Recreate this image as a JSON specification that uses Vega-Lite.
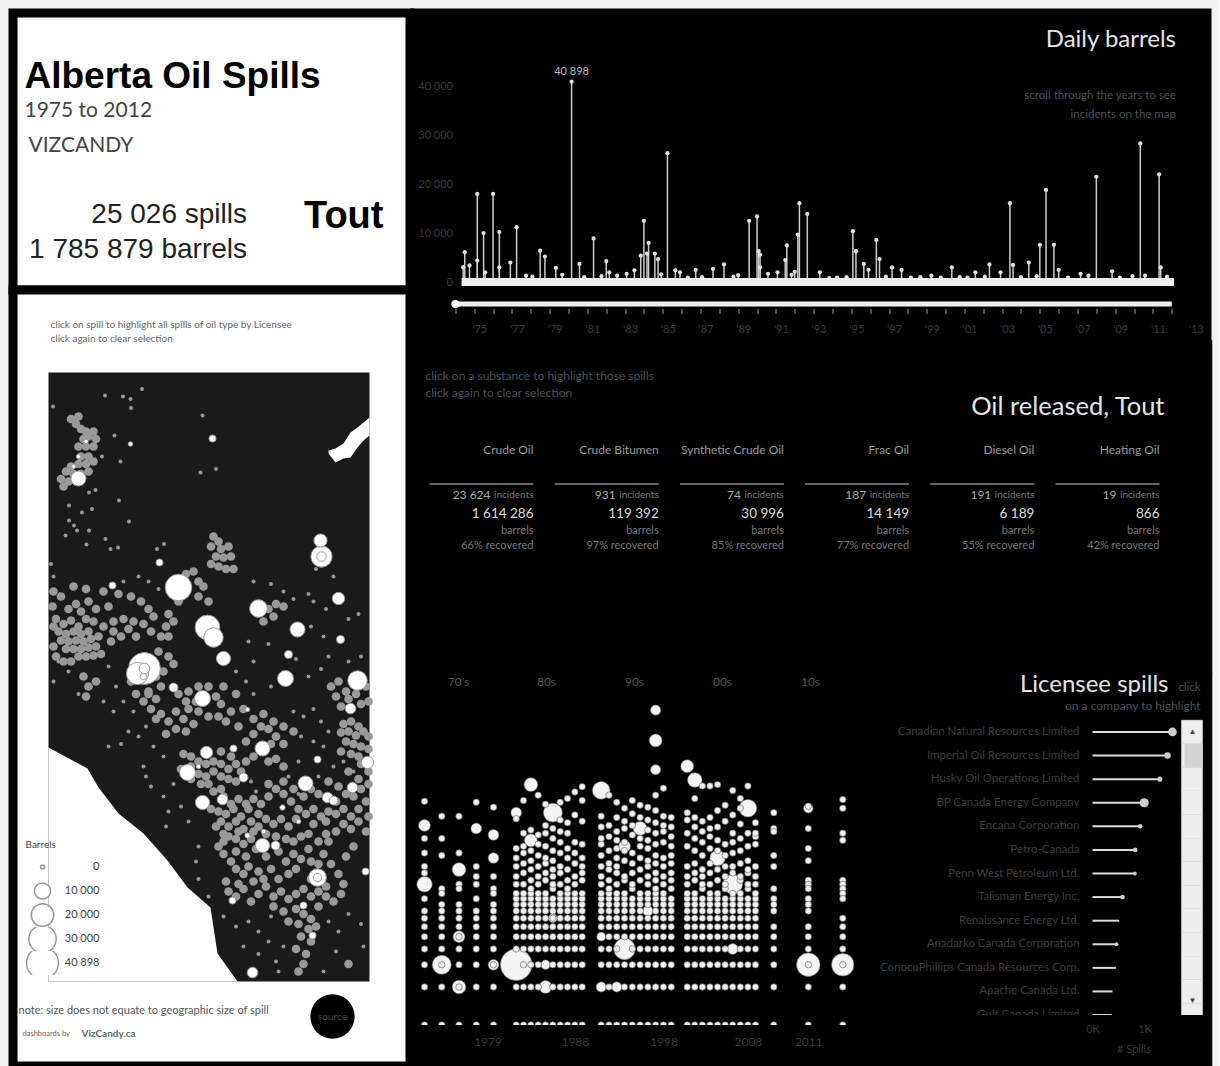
{"$schema":"https://vega.github.io/schema/vega-lite/v6.json","background":"#f2f2f2","padding":{"left":8,"top":8,"right":0,"bottom":0},
"config":{"font":"Lato","view":{"stroke":null},"axis":{"labels":false,"ticks":false,"domain":false,"grid":false,"titleOpacity":0},"locale":{"number":{"decimal":".","thousands":" ","grouping":[3],"currency":["$",""]}}},
"datasets":{
"one":[{"a":1}],
"kpi":[{"label":"spills","value":25026},{"label":"barrels","value":1785879}],
"frame":[{"e0":0,"e1":642,"n0":0,"n1":1218}],
"border":[{"e":0,"n":468},{"e":78,"n":426},{"e":100,"n":388},{"e":140,"n":336},{"e":190,"n":296},{"e":238,"n":242},{"e":278,"n":188},{"e":324,"n":148},{"e":338,"n":56},{"e":378,"n":0}],
"lake":[{"e":560,"n":1062,"n2":1056},{"e":574,"n":1066,"n2":1038},{"e":590,"n":1076,"n2":1046},{"e":604,"n":1098,"n2":1048},{"e":618,"n":1108,"n2":1068},{"e":630,"n":1118,"n2":1082},{"e":642,"n":1128,"n2":1092}],
"blobs":[{"e":45,"n":1125},{"e":55,"n":1115},{"e":60,"n":1130},{"e":65,"n":1105},{"e":75,"n":1100},{"e":80,"n":1090},{"e":70,"n":1085},{"e":90,"n":1100},{"e":95,"n":1085},{"e":60,"n":1070},{"e":75,"n":1070},{"e":90,"n":1070},{"e":65,"n":1050},{"e":80,"n":1050},{"e":60,"n":1035},{"e":75,"n":1035},{"e":90,"n":1040},{"e":45,"n":1030},{"e":35,"n":1020},{"e":50,"n":1015},{"e":65,"n":1015},{"e":80,"n":1020},{"e":25,"n":1005},{"e":40,"n":1000},{"e":30,"n":990},{"e":55,"n":1000},
{"e":330,"n":890},{"e":340,"n":880},{"e":325,"n":870},{"e":345,"n":865},{"e":360,"n":870},{"e":335,"n":850},{"e":350,"n":848},{"e":365,"n":850},{"e":325,"n":835},{"e":340,"n":830},{"e":355,"n":825},{"e":370,"n":825},{"e":290,"n":820},{"e":300,"n":800},{"e":310,"n":790},{"e":275,"n":815},{"e":300,"n":770},{"e":320,"n":760},{"e":250,"n":790},{"e":260,"n":760},{"e":240,"n":735},{"e":235,"n":710},{"e":225,"n":690},{"e":240,"n":690},{"e":250,"n":720},{"e":440,"n":745},{"e":455,"n":755},{"e":470,"n":750},{"e":450,"n":730},{"e":430,"n":720},
{"e":10,"n":780},{"e":25,"n":770},{"e":50,"n":790},{"e":75,"n":785},{"e":110,"n":780},{"e":8,"n":750},{"e":40,"n":745},{"e":55,"n":755},{"e":65,"n":740},{"e":120,"n":750},{"e":165,"n":770},{"e":185,"n":760},{"e":200,"n":745},{"e":150,"n":725},{"e":170,"n":720},{"e":190,"n":715},
{"e":15,"n":725},{"e":30,"n":715},{"e":45,"n":722},{"e":60,"n":710},{"e":20,"n":700},{"e":35,"n":695},{"e":50,"n":700},{"e":65,"n":695},{"e":80,"n":700},{"e":25,"n":682},{"e":40,"n":680},{"e":55,"n":682},{"e":70,"n":680},{"e":85,"n":685},{"e":35,"n":665},{"e":50,"n":665},{"e":65,"n":665},{"e":80,"n":668},{"e":95,"n":670},{"e":60,"n":650},{"e":75,"n":650},{"e":90,"n":652},{"e":105,"n":655},{"e":130,"n":700},{"e":145,"n":690},{"e":160,"n":705},{"e":175,"n":690},{"e":125,"n":680},{"e":205,"n":700},{"e":220,"n":660},{"e":240,"n":650},{"e":250,"n":635},
{"e":70,"n":610},{"e":80,"n":590},{"e":75,"n":570},{"e":95,"n":600},{"e":200,"n":580},{"e":215,"n":565},{"e":205,"n":545},{"e":225,"n":535},{"e":240,"n":520},{"e":255,"n":540},{"e":270,"n":525},{"e":255,"n":505},{"e":275,"n":500},{"e":290,"n":515},{"e":320,"n":590},{"e":335,"n":570},{"e":350,"n":590},{"e":345,"n":555},{"e":365,"n":540},{"e":355,"n":520},{"e":380,"n":510},
{"e":565,"n":590},{"e":580,"n":600},{"e":575,"n":570},{"e":595,"n":580},{"e":585,"n":550},{"e":600,"n":565},{"e":615,"n":575},{"e":625,"n":555},{"e":635,"n":590},{"e":640,"n":560},{"e":590,"n":515},{"e":605,"n":520},{"e":620,"n":510},{"e":585,"n":498},{"e":600,"n":500},{"e":615,"n":492},{"e":630,"n":500},{"e":640,"n":490},{"e":595,"n":480},{"e":610,"n":475},{"e":625,"n":470},{"e":640,"n":465},
{"e":270,"n":455},{"e":285,"n":450},{"e":300,"n":440},{"e":315,"n":435},{"e":330,"n":440},{"e":345,"n":435},{"e":360,"n":425},{"e":375,"n":435},{"e":265,"n":425},{"e":285,"n":405},{"e":300,"n":415},{"e":315,"n":410},{"e":330,"n":420},{"e":345,"n":410},{"e":360,"n":405},{"e":375,"n":400},{"e":320,"n":395},{"e":385,"n":420},
{"e":395,"n":480},{"e":410,"n":495},{"e":425,"n":510},{"e":440,"n":505},{"e":455,"n":490},{"e":470,"n":475},{"e":445,"n":475},{"e":455,"n":445},{"e":470,"n":430},{"e":440,"n":440},{"e":410,"n":450},{"e":395,"n":440},
{"e":200,"n":575},{"e":225,"n":590},{"e":280,"n":580},{"e":295,"n":560},{"e":280,"n":545},{"e":235,"n":495},
{"e":330,"n":380},{"e":345,"n":385},{"e":325,"n":345},{"e":340,"n":340},{"e":355,"n":335},{"e":370,"n":345},{"e":385,"n":330},{"e":400,"n":345},{"e":345,"n":320},{"e":360,"n":310},{"e":375,"n":320},{"e":390,"n":305},{"e":405,"n":320},{"e":420,"n":310},{"e":360,"n":290},{"e":375,"n":285},{"e":390,"n":275},{"e":405,"n":285},{"e":420,"n":335},{"e":435,"n":325},{"e":450,"n":315},{"e":465,"n":325},{"e":480,"n":310},{"e":495,"n":325},{"e":505,"n":290},{"e":490,"n":280},{"e":340,"n":270},{"e":350,"n":255},{"e":365,"n":240},{"e":375,"n":225},{"e":390,"n":215},
{"e":440,"n":395},{"e":455,"n":385},{"e":470,"n":375},{"e":485,"n":360},{"e":500,"n":345},{"e":515,"n":335},{"e":530,"n":345},{"e":545,"n":330},{"e":560,"n":340},{"e":575,"n":335},{"e":590,"n":345},{"e":605,"n":330},{"e":620,"n":345},{"e":635,"n":360},{"e":640,"n":330},{"e":590,"n":315},{"e":605,"n":305},{"e":620,"n":320},{"e":635,"n":300},{"e":575,"n":300},{"e":555,"n":295},{"e":540,"n":375},{"e":610,"n":370},{"e":625,"n":385},{"e":640,"n":395},
{"e":460,"n":260},{"e":475,"n":240},{"e":490,"n":255},{"e":505,"n":245},{"e":520,"n":265},{"e":550,"n":255},{"e":565,"n":235},{"e":580,"n":215},{"e":590,"n":195},{"e":480,"n":215},{"e":495,"n":225},
{"e":360,"n":180},{"e":375,"n":170},{"e":390,"n":185},{"e":405,"n":160},{"e":420,"n":175},{"e":435,"n":190},{"e":450,"n":170},{"e":465,"n":180},{"e":480,"n":165},{"e":495,"n":175},{"e":510,"n":185},{"e":525,"n":170},{"e":540,"n":180},{"e":555,"n":170},{"e":570,"n":160},{"e":585,"n":175},{"e":495,"n":145},{"e":510,"n":135},{"e":525,"n":125},{"e":500,"n":115},{"e":520,"n":105},{"e":535,"n":110},{"e":505,"n":90},{"e":525,"n":80},{"e":495,"n":65},{"e":515,"n":55},{"e":510,"n":35},{"e":500,"n":20},{"e":600,"n":35},
{"e":285,"n":430},{"e":305,"n":395},{"e":345,"n":460},{"e":365,"n":450},{"e":350,"n":370},{"e":365,"n":355},{"e":380,"n":365},{"e":395,"n":355},{"e":410,"n":365},{"e":425,"n":355},{"e":335,"n":310},{"e":350,"n":295},{"e":380,"n":300},{"e":410,"n":300},{"e":435,"n":295},{"e":455,"n":290},{"e":475,"n":285},{"e":350,"n":280},{"e":375,"n":260},{"e":395,"n":250},{"e":415,"n":265},{"e":435,"n":250},{"e":400,"n":230},{"e":420,"n":220},{"e":445,"n":225},{"e":460,"n":205},{"e":410,"n":200},{"e":380,"n":195},{"e":430,"n":205},{"e":355,"n":200},{"e":450,"n":150},{"e":470,"n":140},{"e":480,"n":120},{"e":540,"n":150},{"e":555,"n":190},{"e":525,"n":205},{"e":540,"n":235},{"e":525,"n":240},{"e":595,"n":250},{"e":610,"n":270},{"e":560,"n":280},{"e":540,"n":280},{"e":520,"n":295},{"e":530,"n":315},{"e":555,"n":320},{"e":575,"n":360},{"e":595,"n":375},{"e":580,"n":390},{"e":560,"n":400},{"e":525,"n":385},{"e":510,"n":370},{"e":490,"n":385},{"e":470,"n":400},{"e":440,"n":370},{"e":620,"n":405},{"e":600,"n":420},{"e":625,"n":435},{"e":640,"n":420},{"e":585,"n":460},{"e":605,"n":455},{"e":620,"n":450},
{"e":215,"n":610},{"e":230,"n":620},{"e":200,"n":625},{"e":215,"n":525},{"e":190,"n":560},{"e":175,"n":575},{"e":165,"n":600},{"e":260,"n":575},{"e":275,"n":560},{"e":300,"n":540},{"e":320,"n":530},{"e":340,"n":530},{"e":300,"n":590},{"e":375,"n":575},{"e":390,"n":545},{"e":410,"n":525},{"e":430,"n":535},{"e":450,"n":520},{"e":470,"n":510},{"e":490,"n":500},{"e":10,"n":710},{"e":10,"n":670},{"e":15,"n":650},{"e":30,"n":640},{"e":45,"n":640},{"e":100,"n":690},{"e":110,"n":710},{"e":90,"n":720},{"e":75,"n":725},{"e":95,"n":745},{"e":80,"n":760},{"e":140,"n":775},{"e":130,"n":720},{"e":210,"n":730}],
"small":[{"e":113,"n":1172},{"e":149,"n":1170},{"e":164,"n":1165},{"e":187,"n":1185},{"e":165,"n":1147},{"e":9,"n":1150},{"e":308,"n":1132},{"e":132,"n":1092},{"e":164,"n":1075},{"e":144,"n":1040},{"e":107,"n":1050},{"e":304,"n":1018},{"e":335,"n":1025},{"e":81,"n":978},{"e":94,"n":983},{"e":141,"n":962},{"e":41,"n":952},{"e":67,"n":938},{"e":87,"n":945},{"e":161,"n":920},{"e":41,"n":922},{"e":51,"n":912},{"e":57,"n":902},{"e":34,"n":892},{"e":81,"n":902},{"e":114,"n":885},{"e":76,"n":874},{"e":124,"n":865},{"e":139,"n":868},{"e":217,"n":865},{"e":231,"n":875},{"e":180,"n":810},{"e":150,"n":800},{"e":200,"n":800},{"e":220,"n":785},{"e":5,"n":835},{"e":10,"n":810},{"e":410,"n":800},{"e":445,"n":795},{"e":470,"n":780},{"e":490,"n":765},{"e":520,"n":775},{"e":555,"n":745},{"e":600,"n":725},{"e":620,"n":735},{"e":570,"n":810},{"e":535,"n":825},{"e":530,"n":760},{"e":525,"n":710},{"e":550,"n":690},{"e":495,"n":645},{"e":440,"n":675},{"e":400,"n":680},{"e":410,"n":640},{"e":375,"n":620},{"e":395,"n":600},{"e":410,"n":575},{"e":445,"n":590},{"e":520,"n":610},{"e":545,"n":625},{"e":560,"n":650},{"e":600,"n":640},{"e":625,"n":650},{"e":120,"n":630},{"e":135,"n":590},{"e":150,"n":560},{"e":170,"n":540},{"e":130,"n":540},{"e":110,"n":560},{"e":60,"n":575},{"e":40,"n":620},{"e":20,"n":640},{"e":10,"n":600},{"e":195,"n":510},{"e":180,"n":490},{"e":160,"n":500},{"e":145,"n":475},{"e":120,"n":470},{"e":210,"n":470},{"e":230,"n":450},{"e":250,"n":395},{"e":190,"n":430},{"e":195,"n":410},{"e":205,"n":390},{"e":230,"n":370},{"e":240,"n":340},{"e":265,"n":350},{"e":280,"n":320},{"e":235,"n":310},{"e":300,"n":270},{"e":295,"n":240},{"e":300,"n":205},{"e":320,"n":170},{"e":350,"n":130},{"e":375,"n":110},{"e":400,"n":120},{"e":420,"n":100},{"e":445,"n":130},{"e":440,"n":80},{"e":390,"n":70},{"e":420,"n":55},{"e":455,"n":40},{"e":470,"n":70},{"e":560,"n":120},{"e":580,"n":100},{"e":600,"n":135},{"e":625,"n":115},{"e":575,"n":60},{"e":630,"n":70},{"e":460,"n":20},{"e":550,"n":20},{"e":490,"n":540},{"e":510,"n":530},{"e":530,"n":545},{"e":545,"n":520},{"e":505,"n":490},{"e":530,"n":480},{"e":560,"n":500},{"e":550,"n":470},{"e":500,"n":440},{"e":570,"n":430},{"e":590,"n":440},{"e":610,"n":420},{"e":540,"n":410},{"e":480,"n":410},{"e":500,"n":375},{"e":415,"n":380},{"e":405,"n":400},{"e":300,"n":360}],
"whites":[{"e":192,"n":626,"b":40898},{"e":260,"n":788,"b":28150},{"e":318,"n":708,"b":24400},{"e":178,"n":616,"b":19400},{"e":546,"n":850,"b":17800},{"e":330,"n":688,"b":14800},{"e":618,"n":602,"b":14800},{"e":420,"n":746,"b":12150},{"e":538,"n":208,"b":12150},{"e":474,"n":606,"b":9700},{"e":308,"n":566,"b":9700},{"e":278,"n":418,"b":9700},{"e":60,"n":1006,"b":8600},{"e":498,"n":704,"b":8600},{"e":428,"n":466,"b":8600},{"e":514,"n":396,"b":8600},{"e":350,"n":646,"b":7540},{"e":308,"n":358,"b":7540},{"e":428,"n":272,"b":7540},{"e":544,"n":882,"b":6500},{"e":580,"n":766,"b":5600},{"e":316,"n":458,"b":5600},{"e":638,"n":438,"b":5600},{"e":192,"n":626,"b":4000},{"e":604,"n":546,"b":3960},{"e":348,"n":364,"b":3960},{"e":558,"n":368,"b":3960},{"e":408,"n":18,"b":3960},{"e":608,"n":388,"b":3960},{"e":546,"n":850,"b":3000},{"e":250,"n":588,"b":2550},{"e":390,"n":408,"b":2550},{"e":570,"n":362,"b":2550},{"e":454,"n":272,"b":2550},{"e":538,"n":208,"b":2000},{"e":480,"n":654,"b":1950},{"e":584,"n":684,"b":1950},{"e":328,"n":1086,"b":1400},{"e":222,"n":838,"b":1400},{"e":128,"n":792,"b":1400},{"e":370,"n":466,"b":1400},{"e":538,"n":444,"b":1400},{"e":634,"n":220,"b":1400},{"e":510,"n":152,"b":1400},{"e":528,"n":92,"b":1400},{"e":368,"n":162,"b":1400},{"e":190,"n":610,"b":1000},{"e":468,"n":348,"b":500},{"e":398,"n":292,"b":500},{"e":398,"n":544,"b":150},{"e":164,"n":1075,"b":200},{"e":60,"n":1050,"b":100},{"e":75,"n":1080,"b":100},{"e":50,"n":1030,"b":100},{"e":300,"n":430,"b":200},{"e":430,"n":300,"b":200},{"e":500,"n":320,"b":200}],
"extent":[{"from":"1974-01-01","to":"2012-01-01","base_from":"1974-05-01","base_to":"2012-02-15"}],
"daily":[{"d":"1974-07","v":6100},{"d":"1974-10","v":3400},{"d":"1974-06","v":3050},{"d":"1975-03","v":18000},{"d":"1975-03","v":4400},{"d":"1975-07","v":10000},{"d":"1975-08","v":2000},{"d":"1976-01","v":18000},{"d":"1976-05","v":10200},{"d":"1976-05","v":3000},{"d":"1976-12","v":4000},{"d":"1977-04","v":11200},{"d":"1978-07","v":6400},{"d":"1978-10","v":5200},{"d":"1979-05","v":2900},{"d":"1980-03","v":40898},{"d":"1980-08","v":3700},{"d":"1981-05","v":8900},{"d":"1982-01","v":4300},{"d":"1982-03","v":2000},{"d":"1983-02","v":1700},{"d":"1983-07","v":2400},{"d":"1983-11","v":5400},{"d":"1984-01","v":12500},{"d":"1984-03","v":5800},{"d":"1984-04","v":8000},{"d":"1984-08","v":5800},{"d":"1984-10","v":4700},{"d":"1985-04","v":26300},{"d":"1985-09","v":2400},{"d":"1986-10","v":2500},{"d":"1987-09","v":2700},{"d":"1988-04","v":3600},{"d":"1989-01","v":1400},{"d":"1989-08","v":12500},{"d":"1990-01","v":13400},{"d":"1990-02","v":6300},{"d":"1990-03","v":5600},{"d":"1990-03","v":3000},{"d":"1991-02","v":2000},{"d":"1991-07","v":4500},{"d":"1991-08","v":7500},{"d":"1992-03","v":9700},{"d":"1992-04","v":16100},{"d":"1992-09","v":13900},{"d":"1993-05","v":2000},{"d":"1995-02","v":10400},{"d":"1995-04","v":6300},{"d":"1995-09","v":3700},{"d":"1995-12","v":2500},{"d":"1996-05","v":8600},{"d":"1996-07","v":4700},{"d":"1997-03","v":3000},{"d":"1997-09","v":2500},{"d":"1999-04","v":1300},{"d":"2000-05","v":3000},{"d":"2001-08","v":2000},{"d":"2002-05","v":3600},{"d":"2002-12","v":2000},{"d":"2003-06","v":16100},{"d":"2003-08","v":3500},{"d":"2004-06","v":4000},{"d":"2005-01","v":7600},{"d":"2005-05","v":18800},{"d":"2005-10","v":7600},{"d":"2006-01","v":2500},{"d":"2007-03","v":1700},{"d":"2007-08","v":1300},{"d":"2008-01","v":21500},{"d":"2008-11","v":2200},{"d":"2009-12","v":1200},{"d":"2010-05","v":28300},{"d":"2010-08","v":1300},{"d":"2011-05","v":22000},{"d":"2011-06","v":3000},{"d":"1977-10","v":1300},{"d":"1978-02","v":1100},{"d":"1979-09","v":1500},{"d":"1980-11","v":1000},{"d":"1981-10","v":1200},{"d":"1982-08","v":1300},{"d":"1984-12","v":1600},{"d":"1985-12","v":2000},{"d":"1986-05","v":900},{"d":"1987-02","v":1000},{"d":"1988-10","v":1100},{"d":"1990-08","v":1700},{"d":"1991-11","v":1500},{"d":"1992-01","v":2100},{"d":"1993-11","v":800},{"d":"1994-04","v":900},{"d":"1994-10","v":1000},{"d":"1996-11","v":1100},{"d":"1998-03","v":900},{"d":"1998-09","v":1000},{"d":"1999-10","v":900},{"d":"2000-10","v":1000},{"d":"2001-03","v":900},{"d":"2002-02","v":1100},{"d":"2004-01","v":1000},{"d":"2004-11","v":1200},{"d":"2006-07","v":900},{"d":"2009-04","v":900},{"d":"2011-10","v":1100}],
"oil":[{"s":"Crude Oil","i":23624,"b":1614286,"r":0.66},{"s":"Crude Bitumen","i":931,"b":119392,"r":0.97},{"s":"Synthetic Crude Oil","i":74,"b":30996,"r":0.85},{"s":"Frac Oil","i":187,"b":14149,"r":0.77},{"s":"Diesel Oil","i":191,"b":6189,"r":0.55},{"s":"Heating Oil","i":19,"b":866,"r":0.42}],
"lic":[{"c":"Canadian Natural Resources Limited","v":1538,"b":1800},{"c":"Imperial Oil Resources Limited","v":1442,"b":1000},{"c":"Husky Oil Operations Limited","v":1295,"b":600},{"c":"BP Canada Energy Company","v":994,"b":2000},{"c":"Encana Corporation","v":917,"b":500},{"c":"Petro-Canada","v":821,"b":500},{"c":"Penn West Petroleum Ltd.","v":814,"b":350},{"c":"Talisman Energy Inc.","v":577,"b":500},{"c":"Renaissance Energy Ltd.","v":513,"b":0},{"c":"Anadarko Canada Corporation","v":461,"b":350},{"c":"ConocoPhillips Canada Resources Corp.","v":448,"b":0},{"c":"Apache Canada Ltd.","v":385,"b":0},{"c":"Gulf Canada Limited","v":370,"b":0}],
"big":[{"yr":1980,"n":3,"b":40000},{"yr":1975,"n":38,"b":5000},{"yr":1975,"n":13,"b":9000},{"yr":1976,"n":3,"b":14000},{"yr":1977,"n":17,"b":7000},{"yr":1977,"n":5,"b":5000},{"yr":1977,"n":2,"b":7000},{"yr":1978,"n":36,"b":4000},{"yr":1979,"n":32,"b":4000},{"yr":1979,"n":21,"b":4000},{"yr":1979,"n":3,"b":4000},{"yr":1980,"n":48,"b":4000},{"yr":1982,"n":80,"b":7000},{"yr":1982,"n":29,"b":6000},{"yr":1984,"n":2,"b":6000},{"yr":1984,"n":3,"b":3000},{"yr":1985,"n":48,"b":14000},{"yr":1985,"n":7,"b":2500},{"yr":1990,"n":72,"b":12000},{"yr":1990,"n":5,"b":2500},{"yr":1990,"n":2,"b":3500},{"yr":1992,"n":2,"b":3500},{"yr":1993,"n":4,"b":18000},{"yr":1993,"n":26,"b":5000},{"yr":1995,"n":36,"b":7000},{"yr":1996,"n":8,"b":3500},{"yr":1997,"n":311,"b":3500},{"yr":1997,"n":179,"b":6000},{"yr":1997,"n":105,"b":3500},{"yr":2000,"n":112,"b":6000},{"yr":2001,"n":87,"b":8000},{"yr":2004,"n":21,"b":9000},{"yr":2006,"n":13,"b":15000},{"yr":2006,"n":4,"b":4000},{"yr":2008,"n":52,"b":12000},{"yr":2011,"n":3,"b":22000},{"yr":2011,"n":52,"b":3000},{"yr":2012,"n":3,"b":20000}],
"dots":[{"yr":1975,"n":59},{"yr":1975,"n":30},{"yr":1975,"n":23},{"yr":1975,"n":18},{"yr":1975,"n":16},{"yr":1975,"n":10},{"yr":1975,"n":8},{"yr":1975,"n":7},{"yr":1975,"n":6},{"yr":1975,"n":5},{"yr":1975,"n":4},{"yr":1975,"n":3},{"yr":1975,"n":2},{"yr":1975,"n":1},{"yr":1976,"n":45},{"yr":1976,"n":30},{"yr":1976,"n":22},{"yr":1976,"n":12},{"yr":1976,"n":11},{"yr":1976,"n":9},{"yr":1976,"n":8},{"yr":1976,"n":7},{"yr":1976,"n":6},{"yr":1976,"n":5},{"yr":1976,"n":4},{"yr":1976,"n":3},{"yr":1976,"n":2},{"yr":1976,"n":1},{"yr":1977,"n":45},{"yr":1977,"n":23},{"yr":1977,"n":13},{"yr":1977,"n":12},{"yr":1977,"n":9},{"yr":1977,"n":8},{"yr":1977,"n":7},{"yr":1977,"n":6},{"yr":1977,"n":5},{"yr":1977,"n":4},{"yr":1977,"n":3},{"yr":1977,"n":2},{"yr":1977,"n":1},{"yr":1978,"n":58},{"yr":1978,"n":18},{"yr":1978,"n":15},{"yr":1978,"n":13},{"yr":1978,"n":10},{"yr":1978,"n":8},{"yr":1978,"n":7},{"yr":1978,"n":6},{"yr":1978,"n":5},{"yr":1978,"n":4},{"yr":1978,"n":3},{"yr":1978,"n":2},{"yr":1978,"n":1},{"yr":1979,"n":53},{"yr":1979,"n":15},{"yr":1979,"n":12},{"yr":1979,"n":11},{"yr":1979,"n":9},{"yr":1979,"n":8},{"yr":1979,"n":7},{"yr":1979,"n":6},{"yr":1979,"n":5},{"yr":1979,"n":4},{"yr":1979,"n":3},{"yr":1979,"n":2},{"yr":1979,"n":1},
{"yr":1980,"n":1},{"yr":1980,"n":2},{"yr":1980,"n":4},{"yr":1980,"n":5},{"yr":1980,"n":6},{"yr":1980,"n":7},{"yr":1980,"n":8},{"yr":1980,"n":9},{"yr":1980,"n":10},{"yr":1980,"n":11},{"yr":1980,"n":13},{"yr":1980,"n":15},{"yr":1980,"n":18},{"yr":1980,"n":21},{"yr":1980,"n":25},{"yr":1980,"n":43},
{"yr":1981,"n":1},{"yr":1981,"n":2},{"yr":1981,"n":3},{"yr":1981,"n":4},{"yr":1981,"n":5},{"yr":1981,"n":6},{"yr":1981,"n":7},{"yr":1981,"n":8},{"yr":1981,"n":9},{"yr":1981,"n":10},{"yr":1981,"n":11},{"yr":1981,"n":13},{"yr":1981,"n":16},{"yr":1981,"n":19},{"yr":1981,"n":23},{"yr":1981,"n":26},{"yr":1981,"n":33},{"yr":1981,"n":60},
{"yr":1982,"n":1},{"yr":1982,"n":2},{"yr":1982,"n":3},{"yr":1982,"n":4},{"yr":1982,"n":5},{"yr":1982,"n":6},{"yr":1982,"n":7},{"yr":1982,"n":8},{"yr":1982,"n":9},{"yr":1982,"n":10},{"yr":1982,"n":11},{"yr":1982,"n":12},{"yr":1982,"n":14},{"yr":1982,"n":17},{"yr":1982,"n":20},{"yr":1982,"n":24},{"yr":1982,"n":35},
{"yr":1983,"n":1},{"yr":1983,"n":2},{"yr":1983,"n":3},{"yr":1983,"n":4},{"yr":1983,"n":5},{"yr":1983,"n":6},{"yr":1983,"n":7},{"yr":1983,"n":8},{"yr":1983,"n":9},{"yr":1983,"n":10},{"yr":1983,"n":11},{"yr":1983,"n":13},{"yr":1983,"n":15},{"yr":1983,"n":18},{"yr":1983,"n":22},{"yr":1983,"n":27},{"yr":1983,"n":32},{"yr":1983,"n":66},
{"yr":1984,"n":1},{"yr":1984,"n":4},{"yr":1984,"n":5},{"yr":1984,"n":6},{"yr":1984,"n":7},{"yr":1984,"n":8},{"yr":1984,"n":9},{"yr":1984,"n":10},{"yr":1984,"n":11},{"yr":1984,"n":14},{"yr":1984,"n":16},{"yr":1984,"n":19},{"yr":1984,"n":21},{"yr":1984,"n":26},{"yr":1984,"n":33},{"yr":1984,"n":38},{"yr":1984,"n":56},
{"yr":1985,"n":1},{"yr":1985,"n":2},{"yr":1985,"n":3},{"yr":1985,"n":4},{"yr":1985,"n":5},{"yr":1985,"n":6},{"yr":1985,"n":7},{"yr":1985,"n":8},{"yr":1985,"n":9},{"yr":1985,"n":10},{"yr":1985,"n":12},{"yr":1985,"n":13},{"yr":1985,"n":15},{"yr":1985,"n":17},{"yr":1985,"n":20},{"yr":1985,"n":24},{"yr":1985,"n":30},{"yr":1985,"n":36},
{"yr":1986,"n":1},{"yr":1986,"n":2},{"yr":1986,"n":3},{"yr":1986,"n":4},{"yr":1986,"n":5},{"yr":1986,"n":6},{"yr":1986,"n":7},{"yr":1986,"n":8},{"yr":1986,"n":9},{"yr":1986,"n":10},{"yr":1986,"n":11},{"yr":1986,"n":13},{"yr":1986,"n":16},{"yr":1986,"n":18},{"yr":1986,"n":23},{"yr":1986,"n":28},{"yr":1986,"n":34},{"yr":1986,"n":42},{"yr":1986,"n":58},
{"yr":1987,"n":1},{"yr":1987,"n":2},{"yr":1987,"n":3},{"yr":1987,"n":4},{"yr":1987,"n":5},{"yr":1987,"n":6},{"yr":1987,"n":7},{"yr":1987,"n":8},{"yr":1987,"n":9},{"yr":1987,"n":10},{"yr":1987,"n":11},{"yr":1987,"n":12},{"yr":1987,"n":14},{"yr":1987,"n":17},{"yr":1987,"n":21},{"yr":1987,"n":25},{"yr":1987,"n":33},{"yr":1987,"n":40},{"yr":1987,"n":62},
{"yr":1988,"n":1},{"yr":1988,"n":2},{"yr":1988,"n":3},{"yr":1988,"n":4},{"yr":1988,"n":5},{"yr":1988,"n":6},{"yr":1988,"n":7},{"yr":1988,"n":8},{"yr":1988,"n":9},{"yr":1988,"n":10},{"yr":1988,"n":11},{"yr":1988,"n":13},{"yr":1988,"n":15},{"yr":1988,"n":19},{"yr":1988,"n":23},{"yr":1988,"n":28},{"yr":1988,"n":46},{"yr":1988,"n":70},
{"yr":1989,"n":1},{"yr":1989,"n":2},{"yr":1989,"n":3},{"yr":1989,"n":4},{"yr":1989,"n":5},{"yr":1989,"n":6},{"yr":1989,"n":7},{"yr":1989,"n":8},{"yr":1989,"n":9},{"yr":1989,"n":10},{"yr":1989,"n":11},{"yr":1989,"n":14},{"yr":1989,"n":16},{"yr":1989,"n":18},{"yr":1989,"n":21},{"yr":1989,"n":27},{"yr":1989,"n":41},{"yr":1989,"n":60},{"yr":1989,"n":77},
{"yr":1990,"n":1},{"yr":1990,"n":3},{"yr":1990,"n":4},{"yr":1990,"n":6},{"yr":1990,"n":7},{"yr":1990,"n":8},{"yr":1990,"n":9},{"yr":1990,"n":10},{"yr":1990,"n":11},{"yr":1990,"n":13},{"yr":1990,"n":15},{"yr":1990,"n":18},{"yr":1990,"n":22},{"yr":1990,"n":27},{"yr":1990,"n":30},{"yr":1990,"n":37},{"yr":1990,"n":45},
{"yr":1991,"n":1},{"yr":1991,"n":2},{"yr":1991,"n":3},{"yr":1991,"n":4},{"yr":1991,"n":5},{"yr":1991,"n":6},{"yr":1991,"n":7},{"yr":1991,"n":8},{"yr":1991,"n":9},{"yr":1991,"n":10},{"yr":1991,"n":11},{"yr":1991,"n":12},{"yr":1991,"n":14},{"yr":1991,"n":17},{"yr":1991,"n":19},{"yr":1991,"n":24},{"yr":1991,"n":31},{"yr":1991,"n":38},{"yr":1991,"n":66},
{"yr":1992,"n":1},{"yr":1992,"n":3},{"yr":1992,"n":4},{"yr":1992,"n":5},{"yr":1992,"n":6},{"yr":1992,"n":7},{"yr":1992,"n":8},{"yr":1992,"n":9},{"yr":1992,"n":10},{"yr":1992,"n":11},{"yr":1992,"n":13},{"yr":1992,"n":16},{"yr":1992,"n":18},{"yr":1992,"n":21},{"yr":1992,"n":25},{"yr":1992,"n":29},{"yr":1992,"n":34},{"yr":1992,"n":44},{"yr":1992,"n":58},
{"yr":1993,"n":1},{"yr":1993,"n":2},{"yr":1993,"n":3},{"yr":1993,"n":5},{"yr":1993,"n":6},{"yr":1993,"n":7},{"yr":1993,"n":8},{"yr":1993,"n":9},{"yr":1993,"n":10},{"yr":1993,"n":11},{"yr":1993,"n":14},{"yr":1993,"n":15},{"yr":1993,"n":20},{"yr":1993,"n":24},{"yr":1993,"n":28},{"yr":1993,"n":36},{"yr":1993,"n":41},{"yr":1993,"n":52},
{"yr":1994,"n":1},{"yr":1994,"n":2},{"yr":1994,"n":3},{"yr":1994,"n":4},{"yr":1994,"n":5},{"yr":1994,"n":6},{"yr":1994,"n":7},{"yr":1994,"n":8},{"yr":1994,"n":9},{"yr":1994,"n":10},{"yr":1994,"n":12},{"yr":1994,"n":13},{"yr":1994,"n":16},{"yr":1994,"n":19},{"yr":1994,"n":23},{"yr":1994,"n":32},{"yr":1994,"n":38},{"yr":1994,"n":47},{"yr":1994,"n":60},
{"yr":1995,"n":1},{"yr":1995,"n":2},{"yr":1995,"n":3},{"yr":1995,"n":4},{"yr":1995,"n":5},{"yr":1995,"n":6},{"yr":1995,"n":7},{"yr":1995,"n":8},{"yr":1995,"n":9},{"yr":1995,"n":10},{"yr":1995,"n":11},{"yr":1995,"n":14},{"yr":1995,"n":17},{"yr":1995,"n":21},{"yr":1995,"n":26},{"yr":1995,"n":30},{"yr":1995,"n":44},{"yr":1995,"n":55},
{"yr":1996,"n":1},{"yr":1996,"n":2},{"yr":1996,"n":3},{"yr":1996,"n":4},{"yr":1996,"n":5},{"yr":1996,"n":6},{"yr":1996,"n":7},{"yr":1996,"n":9},{"yr":1996,"n":10},{"yr":1996,"n":11},{"yr":1996,"n":13},{"yr":1996,"n":15},{"yr":1996,"n":18},{"yr":1996,"n":20},{"yr":1996,"n":25},{"yr":1996,"n":29},{"yr":1996,"n":35},{"yr":1996,"n":42},{"yr":1996,"n":53},
{"yr":1997,"n":1},{"yr":1997,"n":2},{"yr":1997,"n":3},{"yr":1997,"n":4},{"yr":1997,"n":5},{"yr":1997,"n":6},{"yr":1997,"n":7},{"yr":1997,"n":8},{"yr":1997,"n":9},{"yr":1997,"n":10},{"yr":1997,"n":11},{"yr":1997,"n":12},{"yr":1997,"n":14},{"yr":1997,"n":16},{"yr":1997,"n":19},{"yr":1997,"n":22},{"yr":1997,"n":27},{"yr":1997,"n":33},{"yr":1997,"n":40},{"yr":1997,"n":50},{"yr":1997,"n":66},
{"yr":1998,"n":1},{"yr":1998,"n":2},{"yr":1998,"n":3},{"yr":1998,"n":4},{"yr":1998,"n":5},{"yr":1998,"n":6},{"yr":1998,"n":7},{"yr":1998,"n":8},{"yr":1998,"n":9},{"yr":1998,"n":10},{"yr":1998,"n":11},{"yr":1998,"n":13},{"yr":1998,"n":15},{"yr":1998,"n":18},{"yr":1998,"n":21},{"yr":1998,"n":28},{"yr":1998,"n":34},{"yr":1998,"n":38},{"yr":1998,"n":45},{"yr":1998,"n":75},
{"yr":1999,"n":1},{"yr":1999,"n":2},{"yr":1999,"n":3},{"yr":1999,"n":4},{"yr":1999,"n":5},{"yr":1999,"n":6},{"yr":1999,"n":7},{"yr":1999,"n":8},{"yr":1999,"n":9},{"yr":1999,"n":10},{"yr":1999,"n":12},{"yr":1999,"n":14},{"yr":1999,"n":16},{"yr":1999,"n":19},{"yr":1999,"n":22},{"yr":1999,"n":26},{"yr":1999,"n":31},{"yr":1999,"n":37},{"yr":1999,"n":44},
{"yr":2000,"n":1},{"yr":2000,"n":2},{"yr":2000,"n":3},{"yr":2000,"n":4},{"yr":2000,"n":5},{"yr":2000,"n":6},{"yr":2000,"n":7},{"yr":2000,"n":8},{"yr":2000,"n":9},{"yr":2000,"n":10},{"yr":2000,"n":11},{"yr":2000,"n":13},{"yr":2000,"n":15},{"yr":2000,"n":18},{"yr":2000,"n":26},{"yr":2000,"n":33},{"yr":2000,"n":42},{"yr":2000,"n":48},
{"yr":2001,"n":1},{"yr":2001,"n":2},{"yr":2001,"n":3},{"yr":2001,"n":4},{"yr":2001,"n":5},{"yr":2001,"n":6},{"yr":2001,"n":7},{"yr":2001,"n":8},{"yr":2001,"n":9},{"yr":2001,"n":10},{"yr":2001,"n":11},{"yr":2001,"n":14},{"yr":2001,"n":16},{"yr":2001,"n":19},{"yr":2001,"n":24},{"yr":2001,"n":30},{"yr":2001,"n":37},{"yr":2001,"n":44},{"yr":2001,"n":62},
{"yr":2002,"n":1},{"yr":2002,"n":2},{"yr":2002,"n":3},{"yr":2002,"n":4},{"yr":2002,"n":5},{"yr":2002,"n":6},{"yr":2002,"n":7},{"yr":2002,"n":8},{"yr":2002,"n":9},{"yr":2002,"n":10},{"yr":2002,"n":12},{"yr":2002,"n":13},{"yr":2002,"n":15},{"yr":2002,"n":17},{"yr":2002,"n":22},{"yr":2002,"n":28},{"yr":2002,"n":34},{"yr":2002,"n":41},{"yr":2002,"n":78},
{"yr":2003,"n":1},{"yr":2003,"n":2},{"yr":2003,"n":3},{"yr":2003,"n":4},{"yr":2003,"n":5},{"yr":2003,"n":6},{"yr":2003,"n":7},{"yr":2003,"n":8},{"yr":2003,"n":9},{"yr":2003,"n":10},{"yr":2003,"n":11},{"yr":2003,"n":13},{"yr":2003,"n":16},{"yr":2003,"n":19},{"yr":2003,"n":25},{"yr":2003,"n":31},{"yr":2003,"n":36},{"yr":2003,"n":44},{"yr":2003,"n":78},
{"yr":2004,"n":1},{"yr":2004,"n":2},{"yr":2004,"n":3},{"yr":2004,"n":4},{"yr":2004,"n":5},{"yr":2004,"n":6},{"yr":2004,"n":7},{"yr":2004,"n":8},{"yr":2004,"n":9},{"yr":2004,"n":10},{"yr":2004,"n":11},{"yr":2004,"n":14},{"yr":2004,"n":17},{"yr":2004,"n":24},{"yr":2004,"n":29},{"yr":2004,"n":37},{"yr":2004,"n":50},{"yr":2004,"n":80},
{"yr":2005,"n":1},{"yr":2005,"n":2},{"yr":2005,"n":3},{"yr":2005,"n":4},{"yr":2005,"n":5},{"yr":2005,"n":6},{"yr":2005,"n":7},{"yr":2005,"n":8},{"yr":2005,"n":9},{"yr":2005,"n":10},{"yr":2005,"n":12},{"yr":2005,"n":13},{"yr":2005,"n":15},{"yr":2005,"n":18},{"yr":2005,"n":22},{"yr":2005,"n":27},{"yr":2005,"n":41},{"yr":2005,"n":55},
{"yr":2006,"n":1},{"yr":2006,"n":2},{"yr":2006,"n":3},{"yr":2006,"n":5},{"yr":2006,"n":6},{"yr":2006,"n":7},{"yr":2006,"n":8},{"yr":2006,"n":9},{"yr":2006,"n":10},{"yr":2006,"n":11},{"yr":2006,"n":16},{"yr":2006,"n":18},{"yr":2006,"n":23},{"yr":2006,"n":28},{"yr":2006,"n":33},{"yr":2006,"n":46},{"yr":2006,"n":72},
{"yr":2007,"n":1},{"yr":2007,"n":2},{"yr":2007,"n":3},{"yr":2007,"n":4},{"yr":2007,"n":5},{"yr":2007,"n":6},{"yr":2007,"n":7},{"yr":2007,"n":8},{"yr":2007,"n":9},{"yr":2007,"n":10},{"yr":2007,"n":11},{"yr":2007,"n":14},{"yr":2007,"n":15},{"yr":2007,"n":19},{"yr":2007,"n":24},{"yr":2007,"n":30},{"yr":2007,"n":39},{"yr":2007,"n":52},{"yr":2007,"n":62},
{"yr":2008,"n":1},{"yr":2008,"n":2},{"yr":2008,"n":3},{"yr":2008,"n":4},{"yr":2008,"n":5},{"yr":2008,"n":6},{"yr":2008,"n":7},{"yr":2008,"n":8},{"yr":2008,"n":9},{"yr":2008,"n":10},{"yr":2008,"n":12},{"yr":2008,"n":13},{"yr":2008,"n":16},{"yr":2008,"n":17},{"yr":2008,"n":20},{"yr":2008,"n":26},{"yr":2008,"n":33},{"yr":2008,"n":78},
{"yr":2009,"n":1},{"yr":2009,"n":2},{"yr":2009,"n":3},{"yr":2009,"n":4},{"yr":2009,"n":5},{"yr":2009,"n":6},{"yr":2009,"n":7},{"yr":2009,"n":8},{"yr":2009,"n":9},{"yr":2009,"n":10},{"yr":2009,"n":11},{"yr":2009,"n":13},{"yr":2009,"n":15},{"yr":2009,"n":18},{"yr":2009,"n":27},{"yr":2009,"n":31},{"yr":2009,"n":33},{"yr":2009,"n":40},
{"yr":2010,"n":48},{"yr":2010,"n":36},{"yr":2010,"n":34},{"yr":2010,"n":22},{"yr":2010,"n":18},{"yr":2010,"n":12},{"yr":2010,"n":10},{"yr":2010,"n":9},{"yr":2010,"n":8},{"yr":2010,"n":6},{"yr":2010,"n":5},{"yr":2010,"n":4},{"yr":2010,"n":3},{"yr":2010,"n":2},{"yr":2010,"n":1},{"yr":2011,"n":54},{"yr":2011,"n":36},{"yr":2011,"n":25},{"yr":2011,"n":20},{"yr":2011,"n":14},{"yr":2011,"n":13},{"yr":2011,"n":12},{"yr":2011,"n":10},{"yr":2011,"n":9},{"yr":2011,"n":8},{"yr":2011,"n":6},{"yr":2011,"n":5},{"yr":2011,"n":4},{"yr":2011,"n":3},{"yr":2011,"n":2},{"yr":2011,"n":1},{"yr":2012,"n":61},{"yr":2012,"n":52},{"yr":2012,"n":33},{"yr":2012,"n":29},{"yr":2012,"n":14},{"yr":2012,"n":13},{"yr":2012,"n":12},{"yr":2012,"n":11},{"yr":2012,"n":10},{"yr":2012,"n":7},{"yr":2012,"n":6},{"yr":2012,"n":5},{"yr":2012,"n":4},{"yr":2012,"n":3},{"yr":2012,"n":2},{"yr":2012,"n":1}]
},
"hconcat":[
{"vconcat":[
{"width":397,"height":277,"view":{"fill":"#fff","stroke":"#000","strokeWidth":9},
"layer":[
{"data":{"name":"one"},"mark":{"type":"text","text":"Alberta Oil Spills","font":"Liberation Sans","fontWeight":"bold","fontSize":37,"align":"left","color":"#000"},"encoding":{"x":{"datum":"left","axis":{"title":null},"scale":{"type":"point","domain":["left","kpi","filter"],"range":[11.5,370.5],"padding":0}},"y":{"datum":"title","axis":{"title":null},"scale":{"type":"point","domain":["title","dates","brand","gap","spills","barrels"],"range":[63.5,235.5],"padding":0}}}},
{"data":{"name":"one"},"mark":{"type":"text","text":"1975 to 2012","fontSize":21,"align":"left","color":"#444"},"encoding":{"x":{"datum":"left"},"y":{"datum":"dates"}}},
{"data":{"name":"one"},"mark":{"type":"text","text":"VIZCANDY","fontSize":21,"align":"left","color":"#444","dx":4,"dy":1},"encoding":{"x":{"datum":"left"},"y":{"datum":"brand"}}},
{"data":{"name":"kpi"},"transform":[{"calculate":"format(datum.value,',d')+' '+datum.label","as":"t"}],"mark":{"type":"text","font":"Liberation Sans","fontSize":28,"align":"right","color":"#222","dx":43,"dy":1},"encoding":{"x":{"datum":"kpi"},"y":{"field":"label","type":"nominal"},"text":{"field":"t"}}},
{"data":{"name":"one"},"mark":{"type":"text","text":"Tout","font":"Liberation Sans","fontWeight":"bold","fontSize":38,"align":"right","color":"#000","dy":3},"encoding":{"x":{"datum":"filter"},"y":{"datum":"spills"}}}
]},
{"width":397,"height":776,"view":{"fill":"#fff","stroke":"#000","strokeWidth":9},
"layer":[
{"data":{"name":"frame"},"mark":{"type":"rect","color":"#1a1a1a"},"encoding":{"x":{"field":"e0","type":"quantitative","axis":{"title":null},"scale":{"domain":[0,642],"range":[35.5,356.5],"nice":false,"zero":false}},"x2":{"field":"e1"},"y":{"field":"n0","type":"quantitative","axis":{"title":null},"scale":{"domain":[0,1218],"range":[691.5,82.5],"nice":false,"zero":false}},"y2":{"field":"n1"}}},
{"data":{"name":"border"},"mark":{"type":"area","color":"#fff"},"encoding":{"x":{"field":"e","type":"quantitative"},"y":{"field":"n","type":"quantitative"},"y2":{"datum":0}}},
{"data":{"name":"lake"},"mark":{"type":"area","color":"#fff"},"encoding":{"x":{"field":"e","type":"quantitative"},"y":{"field":"n","type":"quantitative"},"y2":{"field":"n2"}}},
{"data":{"name":"blobs"},"mark":{"type":"circle","size":75,"color":"#999","opacity":1},"encoding":{"x":{"field":"e","type":"quantitative"},"y":{"field":"n","type":"quantitative"}}},
{"data":{"name":"small"},"mark":{"type":"circle","size":16,"color":"#999","opacity":1},"encoding":{"x":{"field":"e","type":"quantitative"},"y":{"field":"n","type":"quantitative"}}},
{"data":{"name":"whites"},"mark":{"type":"point","filled":true,"fill":"#fff","stroke":"#999","strokeWidth":1,"opacity":1},"encoding":{"x":{"field":"e","type":"quantitative"},"y":{"field":"n","type":"quantitative"},"order":{"field":"b","sort":"descending"},"size":{"field":"b","type":"quantitative","scale":{"domain":[0,40898],"range":[16,1017]},"legend":{"orient":"none","legendX":12.5,"legendY":550,"title":"Barrels","values":[0,10000,20000,30000,40898],"clipHeight":24,"encoding":{"symbols":{"update":{"fill":{"value":"#d0d0d0"},"stroke":{"value":"#aaa"},"opacity":{"value":1}}}},"labelColor":"#444","titleColor":"#444","labelFontSize":11,"titleFontSize":10,"titleFontWeight":"normal","format":",d","labelAlign":"right","labelOffset":40,"rowPadding":0}}}},
{"data":{"name":"one"},"mark":{"type":"text","text":"click on spill to highlight all spills of oil type by Licensee","align":"left","fontSize":10,"color":"#666"},"encoding":{"x":{"datum":4},"y":{"datum":1314}}},
{"data":{"name":"one"},"mark":{"type":"text","text":"click again to clear selection","align":"left","fontSize":10,"color":"#666"},"encoding":{"x":{"datum":4},"y":{"datum":1286}}},
{"data":{"name":"one"},"mark":{"type":"text","text":"note: size does not equate to geographic size of spill","align":"left","fontSize":11,"color":"#555"},"encoding":{"x":{"datum":-60},"y":{"datum":-58}}},
{"data":{"name":"one"},"mark":{"type":"text","text":"dashboards by","align":"left","fontSize":7.5,"color":"#666"},"encoding":{"x":{"datum":-52},"y":{"datum":-104}}},
{"data":{"name":"one"},"mark":{"type":"text","text":"VizCandy.ca","align":"left","fontSize":10,"fontWeight":"bold","color":"#5a6a78"},"encoding":{"x":{"datum":66},"y":{"datum":-104}}},
{"data":{"name":"one"},"mark":{"type":"point","filled":true,"size":1963,"color":"#000","opacity":1},"encoding":{"x":{"datum":568},"y":{"datum":-70}}},
{"data":{"name":"one"},"mark":{"type":"text","text":"source","fontSize":10,"color":"#444"},"encoding":{"x":{"datum":568},"y":{"datum":-70}}}
]}
],"spacing":0,"bounds":"flush","resolve":{"scale":{"size":"independent"},"legend":{"size":"independent"}}},
{"vconcat":[
{"width":792.5,"height":327.5,"view":{"fill":"#000","stroke":"#000","strokeWidth":9},
"title":{"text":"Daily barrels","subtitle":["scroll through the years to see","incidents on the map"],"anchor":"end","dx":-38.5,"offset":-107.5,"color":"#e4e4e4","fontSize":24,"fontWeight":"normal","font":"Lato","subtitleColor":"#4a4f5c","subtitleFontSize":11.5,"subtitleFont":"Lato","subtitlePadding":38,"subtitleLineHeight":19},
"layer":[
{"data":{"name":"daily"},"mark":{"type":"rule","color":"#ccc","strokeWidth":1.5},"encoding":{"x":{"field":"d","type":"temporal","scale":{"domain":["1974-01-01T00:00:00","2014-01-01T00:00:00"],"range":[40.9,795],"nice":false},"axis":{"labels":true,"ticks":true,"tickCount":{"interval":"year","step":1},"labelExpr":"year(datum.value)%2==1 ? \"'\"+timeFormat(datum.value,'%y') : ''","labelOverlap":false,"labelBound":false,"labelFlush":false,"labelOffset":5,"labelPadding":10,"labelColor":"#3a3a3a","labelFontSize":11,"domain":false,"title":null,"grid":false,"tickColor":"#999","tickSize":5,"offset":-32,"tickOpacity":{"condition":{"test":"year(datum.value)>2012","value":0},"value":1}}},"y":{"field":"v","type":"quantitative","scale":{"domain":[-5000,54000],"range":[293.6,4.5],"nice":false,"zero":false},"axis":{"labels":true,"values":[0,10000,20000,30000,40000],"format":",d","labelColor":"#3a3a3a","labelFontSize":11,"domain":false,"ticks":false,"grid":false,"title":null,"offset":-39,"labelPadding":1}},"y2":{"datum":0}}},
{"data":{"name":"daily"},"mark":{"type":"circle","size":18,"color":"#e0e0e0","opacity":1},"encoding":{"x":{"field":"d","type":"temporal"},"y":{"field":"v","type":"quantitative"}}},
{"data":{"name":"daily"},"transform":[{"filter":"datum.v>40000"}],"mark":{"type":"text","dy":-10,"fontSize":11,"color":"#bbb"},"encoding":{"x":{"field":"d","type":"temporal"},"y":{"field":"v","type":"quantitative"},"text":{"field":"v","type":"quantitative","format":",d"}}},
{"data":{"name":"extent"},"mark":{"type":"rule","color":"#eee","strokeWidth":8},"encoding":{"x":{"field":"base_from","type":"temporal"},"x2":{"field":"base_to"},"y":{"datum":0}}},
{"data":{"name":"extent"},"mark":{"type":"rule","color":"#eee","strokeWidth":5},"encoding":{"x":{"field":"from","type":"temporal"},"x2":{"field":"to"},"y":{"datum":-4490}}},
{"data":{"name":"extent"},"mark":{"type":"circle","size":70,"color":"#fff","opacity":1},"encoding":{"x":{"field":"from","type":"temporal"},"y":{"datum":-4490}}}
]},
{"width":797,"height":332,"view":{"fill":"#000","stroke":"#000","strokeWidth":1.5},
"title":{"text":"Oil released, Tout","anchor":"end","dx":-47,"offset":-79,"color":"#e4e4e4","fontSize":25.5,"fontWeight":"normal","font":"Lato"},
"data":{"name":"oil"},
"layer":[
{"mark":{"type":"text","align":"right","fontSize":12,"color":"#999","dy":6},"encoding":{"x":{"field":"s","type":"nominal","bandPosition":1,"axis":{"title":null},"scale":{"type":"band","domain":["Crude Oil","Crude Bitumen","Synthetic Crude Oil","Frac Oil","Diesel Oil","Heating Oil"],"range":[15,745],"paddingInner":0.169,"paddingOuter":0}},"y":{"datum":"name","axis":{"title":null},"scale":{"type":"point","domain":["n1","n2","a","b","name","c","rule","incidents","barrels","word","recovered"],"range":[35,205],"padding":0}},"text":{"field":"s"}}},
{"mark":{"type":"tick","orient":"horizontal","size":104,"thickness":1.5,"color":"#888","yOffset":6,"opacity":1},"encoding":{"x":{"field":"s","type":"nominal"},"y":{"datum":"rule"}}},
{"mark":{"type":"text","text":"incidents","align":"right","fontSize":10,"color":"#777"},"encoding":{"x":{"field":"s","type":"nominal","bandPosition":1},"y":{"datum":"incidents"}}},
{"mark":{"type":"text","align":"right","fontSize":12,"color":"#aaa","dx":-43},"encoding":{"x":{"field":"s","type":"nominal","bandPosition":1},"y":{"datum":"incidents"},"text":{"field":"i","type":"quantitative","format":",d"}}},
{"mark":{"type":"text","align":"right","fontSize":13.5,"color":"#ddd","dy":2},"encoding":{"x":{"field":"s","type":"nominal","bandPosition":1},"y":{"datum":"barrels"},"text":{"field":"b","type":"quantitative","format":",d"}}},
{"mark":{"type":"text","text":"barrels","align":"right","fontSize":11,"color":"#777","dy":2},"encoding":{"x":{"field":"s","type":"nominal","bandPosition":1},"y":{"datum":"word"}}},
{"transform":[{"calculate":"format(datum.r,'.0%')+' recovered'","as":"rt"}],"mark":{"type":"text","align":"right","fontSize":11,"color":"#777"},"encoding":{"x":{"field":"s","type":"nominal","bandPosition":1},"y":{"datum":"recovered"},"text":{"field":"rt"}}},
{"data":{"values":[{"line":"click on a substance to highlight those spills","slot":"n1"},{"line":"click again to clear selection","slot":"n2"}]},"mark":{"type":"text","align":"left","fontSize":12,"color":"#4a4f5c","dx":-4},"encoding":{"x":{"datum":"Crude Oil","bandPosition":0},"y":{"field":"slot","type":"nominal"},"text":{"field":"line"}}}
]},
{"hconcat":[
{"width":88,"height":394,"view":{"fill":"#000","stroke":"#000","strokeWidth":1.5},"title":{"text":"70's","offset":-16,"color":"#555","fontSize":12,"fontWeight":"normal","font":"Lato","anchor":"middle"},
"layer":[
{"data":{"name":"big"},"transform":[{"filter":{"field":"yr","range":[1975,1979]}}],"mark":{"type":"circle","color":"#f4f4f4","stroke":"#777","strokeWidth":0.6,"opacity":1},"encoding":{"x":{"field":"yr","type":"ordinal","scale":{"type":"point","domain":[1975,1976,1977,1978,1979],"range":[10,79],"padding":0},"axis":{"labels":true,"values":[1979],"labelAngle":0,"domain":false,"ticks":false,"title":null,"labelColor":"#3a3a3a","labelFontSize":12,"offset":-31,"labelPadding":0,"labelOffset":-6}},"y":{"field":"n","type":"quantitative","axis":{"title":null},"scale":{"type":"log","domain":[0.465,612],"range":[394,0],"nice":false}},"size":{"field":"b","type":"quantitative","scale":{"domain":[0,40898],"range":[16,1017]},"legend":null}}},
{"data":{"name":"dots"},"transform":[{"filter":{"field":"yr","range":[1975,1979]}}],"mark":{"type":"circle","size":42,"color":"#f0f0f0","stroke":"#555","strokeWidth":0.6,"opacity":1},"encoding":{"x":{"field":"yr","type":"ordinal"},"y":{"field":"n","type":"quantitative"}}},
{"data":{"name":"one"},"mark":{"type":"rect","color":"#000"},"encoding":{"y":{"datum":1},"y2":{"datum":0.8}}}
]},
{"width":88,"height":394,"view":{"fill":"#000","stroke":"#000","strokeWidth":1.5},"title":{"text":"80s","offset":-16,"color":"#555","fontSize":12,"fontWeight":"normal","font":"Lato","anchor":"middle"},
"layer":[
{"data":{"name":"big"},"transform":[{"filter":{"field":"yr","range":[1980,1989]}}],"mark":{"type":"circle","color":"#f4f4f4","stroke":"#777","strokeWidth":0.6,"opacity":1},"encoding":{"x":{"field":"yr","type":"ordinal","scale":{"type":"point","domain":[1980,1981,1982,1983,1984,1985,1986,1987,1988,1989],"range":[13.7,79.7],"padding":0},"axis":{"labels":true,"values":[1988],"labelAngle":0,"domain":false,"ticks":false,"title":null,"labelColor":"#3a3a3a","labelFontSize":12,"offset":-31,"labelPadding":0}},"y":{"field":"n","type":"quantitative","axis":{"title":null},"scale":{"type":"log","domain":[0.465,612],"range":[394,0],"nice":false}},"size":{"field":"b","type":"quantitative","scale":{"domain":[0,40898],"range":[16,1017]},"legend":null}}},
{"data":{"name":"dots"},"transform":[{"filter":{"field":"yr","range":[1980,1989]}}],"mark":{"type":"circle","size":42,"color":"#f0f0f0","stroke":"#555","strokeWidth":0.6,"opacity":1},"encoding":{"x":{"field":"yr","type":"ordinal"},"y":{"field":"n","type":"quantitative"}}},
{"data":{"name":"one"},"mark":{"type":"rect","color":"#000"},"encoding":{"y":{"datum":1},"y2":{"datum":0.8}}}
]},
{"width":88,"height":394,"view":{"fill":"#000","stroke":"#000","strokeWidth":1.5},"title":{"text":"90s","offset":-16,"color":"#555","fontSize":12,"fontWeight":"normal","font":"Lato","anchor":"middle"},
"layer":[
{"data":{"name":"big"},"transform":[{"filter":{"field":"yr","range":[1990,1999]}}],"mark":{"type":"circle","color":"#f4f4f4","stroke":"#777","strokeWidth":0.6,"opacity":1},"encoding":{"x":{"field":"yr","type":"ordinal","scale":{"type":"point","domain":[1990,1991,1992,1993,1994,1995,1996,1997,1998,1999],"range":[10.7,80.7],"padding":0},"axis":{"labels":true,"values":[1998],"labelAngle":0,"domain":false,"ticks":false,"title":null,"labelColor":"#3a3a3a","labelFontSize":12,"offset":-31,"labelPadding":0}},"y":{"field":"n","type":"quantitative","axis":{"title":null},"scale":{"type":"log","domain":[0.465,612],"range":[394,0],"nice":false}},"size":{"field":"b","type":"quantitative","scale":{"domain":[0,40898],"range":[16,1017]},"legend":null}}},
{"data":{"name":"dots"},"transform":[{"filter":{"field":"yr","range":[1990,1999]}}],"mark":{"type":"circle","size":42,"color":"#f0f0f0","stroke":"#555","strokeWidth":0.6,"opacity":1},"encoding":{"x":{"field":"yr","type":"ordinal"},"y":{"field":"n","type":"quantitative"}}},
{"data":{"name":"one"},"mark":{"type":"rect","color":"#000"},"encoding":{"y":{"datum":1},"y2":{"datum":0.8}}}
]},
{"width":88,"height":394,"view":{"fill":"#000","stroke":"#000","strokeWidth":1.5},"title":{"text":"00s","offset":-16,"color":"#555","fontSize":12,"fontWeight":"normal","font":"Lato","anchor":"middle"},
"layer":[
{"data":{"name":"big"},"transform":[{"filter":{"field":"yr","range":[2000,2009]}}],"mark":{"type":"circle","color":"#f4f4f4","stroke":"#777","strokeWidth":0.6,"opacity":1},"encoding":{"x":{"field":"yr","type":"ordinal","scale":{"type":"point","domain":[2000,2001,2002,2003,2004,2005,2006,2007,2008,2009],"range":[8.7,77],"padding":0},"axis":{"labels":true,"values":[2008],"labelAngle":0,"domain":false,"ticks":false,"title":null,"labelColor":"#3a3a3a","labelFontSize":12,"offset":-31,"labelPadding":0}},"y":{"field":"n","type":"quantitative","axis":{"title":null},"scale":{"type":"log","domain":[0.465,612],"range":[394,0],"nice":false}},"size":{"field":"b","type":"quantitative","scale":{"domain":[0,40898],"range":[16,1017]},"legend":null}}},
{"data":{"name":"dots"},"transform":[{"filter":{"field":"yr","range":[2000,2009]}}],"mark":{"type":"circle","size":42,"color":"#f0f0f0","stroke":"#555","strokeWidth":0.6,"opacity":1},"encoding":{"x":{"field":"yr","type":"ordinal"},"y":{"field":"n","type":"quantitative"}}},
{"data":{"name":"one"},"mark":{"type":"rect","color":"#000"},"encoding":{"y":{"datum":1},"y2":{"datum":0.8}}}
]},
{"width":88,"height":394,"view":{"fill":"#000","stroke":"#000","strokeWidth":1.5},"title":{"text":"10s","offset":-16,"color":"#555","fontSize":12,"fontWeight":"normal","font":"Lato","anchor":"middle"},
"layer":[
{"data":{"name":"big"},"transform":[{"filter":{"field":"yr","range":[2010,2012]}}],"mark":{"type":"circle","color":"#f4f4f4","stroke":"#777","strokeWidth":0.6,"opacity":1},"encoding":{"x":{"field":"yr","type":"ordinal","scale":{"type":"point","domain":[2010,2011,2012],"range":[7.3,76.3],"padding":0},"axis":{"labels":true,"values":[2011],"labelAngle":0,"domain":false,"ticks":false,"title":null,"labelColor":"#3a3a3a","labelFontSize":12,"offset":-31,"labelPadding":0}},"y":{"field":"n","type":"quantitative","axis":{"title":null},"scale":{"type":"log","domain":[0.465,612],"range":[394,0],"nice":false}},"size":{"field":"b","type":"quantitative","scale":{"domain":[0,40898],"range":[16,1017]},"legend":null}}},
{"data":{"name":"dots"},"transform":[{"filter":{"field":"yr","range":[2010,2012]}}],"mark":{"type":"circle","size":42,"color":"#f0f0f0","stroke":"#555","strokeWidth":0.6,"opacity":1},"encoding":{"x":{"field":"yr","type":"ordinal"},"y":{"field":"n","type":"quantitative"}}},
{"data":{"name":"one"},"mark":{"type":"rect","color":"#000"},"encoding":{"y":{"datum":1},"y2":{"datum":0.8}}}
]},
{"width":357,"height":394,"view":{"fill":"#000","stroke":"#000","strokeWidth":1.5},
"layer":[
{"data":{"name":"lic"},"mark":{"type":"rect","color":"#eee","stroke":"#eee","strokeWidth":0.5},"encoding":{"x":{"datum":1711,"type":"quantitative","scale":{"domain":[0,2115],"range":[238,348],"nice":false,"zero":false}},"x2":{"datum":2115},"y":{"field":"c","type":"nominal","axis":{"title":null},"scale":{"type":"band","domain":["_t1","_t2","Canadian Natural Resources Limited","Imperial Oil Resources Limited","Husky Oil Operations Limited","BP Canada Energy Company","Encana Corporation","Petro-Canada","Penn West Petroleum Ltd.","Talisman Energy Inc.","Renaissance Energy Ltd.","Anadarko Canada Corporation","ConocoPhillips Canada Resources Corp.","Apache Canada Ltd.","Gulf Canada Limited","_b1","_b2"],"range":[0,401],"paddingInner":0,"paddingOuter":0}}}},
{"data":{"name":"one"},"mark":{"type":"rect","color":"#d4d4d4"},"encoding":{"x":{"datum":1770},"x2":{"datum":2115},"y":{"datum":"Imperial Oil Resources Limited"}}},
{"data":{"name":"one"},"mark":{"type":"text","text":"▲","fontSize":8,"color":"#444"},"encoding":{"x":{"datum":1923},"y":{"datum":"Canadian Natural Resources Limited"}}},
{"data":{"name":"one"},"mark":{"type":"text","text":"▼","fontSize":8,"color":"#444","dy":10},"encoding":{"x":{"datum":1923},"y":{"datum":"Apache Canada Ltd."}}},
{"data":{"name":"lic"},"mark":{"type":"text","align":"right","fontSize":11.5,"color":"#3d3d3d","dx":-13},"encoding":{"x":{"datum":0},"y":{"field":"c","type":"nominal"},"text":{"field":"c"}}},
{"data":{"name":"lic"},"mark":{"type":"rule","color":"#ddd","strokeWidth":2},"encoding":{"x":{"field":"v","type":"quantitative","axis":{"labels":true,"zindex":1,"values":[0,1000],"labelExpr":"datum.value/1000+'K'","domain":false,"ticks":false,"grid":false,"labelColor":"#3a3a3a","labelFontSize":11,"title":"# Spills","titleOpacity":1,"titleColor":"#3a3a3a","titleFontSize":11,"titleFontWeight":"normal","offset":-48,"labelPadding":4,"titleX":279,"titleY":24,"labelFlush":false}},"x2":{"datum":0},"y":{"field":"c","type":"nominal"}}},
{"data":{"name":"lic"},"mark":{"type":"circle","color":"#ccc","opacity":1},"encoding":{"x":{"field":"v","type":"quantitative"},"y":{"field":"c","type":"nominal"},"size":{"field":"b","type":"quantitative","scale":{"domain":[0,2000],"range":[0,85]},"legend":null}}},
{"data":{"name":"one"},"mark":{"type":"text","text":"Licensee spills","fontSize":24,"align":"right","color":"#e4e4e4"},"encoding":{"x":{"datum":1461},"y":{"datum":"_t1"}}},
{"data":{"name":"one"},"mark":{"type":"text","text":"click","fontSize":11.5,"align":"right","color":"#4a4f5c","dy":3},"encoding":{"x":{"datum":2080},"y":{"datum":"_t1"}}},
{"data":{"name":"one"},"mark":{"type":"text","text":"on a company to highlight","fontSize":12,"align":"right","color":"#4a4f5c","dy":-2},"encoding":{"x":{"datum":2080},"y":{"datum":"_t2"}}},
{"data":{"name":"one"},"mark":{"type":"rect","color":"#000"},"encoding":{"y":{"datum":"Gulf Canada Limited"},"y2":{"datum":"_b1"}}}
]}
],"spacing":0,"bounds":"flush","resolve":{"scale":{"size":"independent"},"legend":{"size":"independent"}}}
],"spacing":0,"bounds":"flush","resolve":{"scale":{"size":"independent"},"legend":{"size":"independent"}}}
],"spacing":401.5,"bounds":"flush","resolve":{"scale":{"size":"independent"},"legend":{"size":"independent"}}}
